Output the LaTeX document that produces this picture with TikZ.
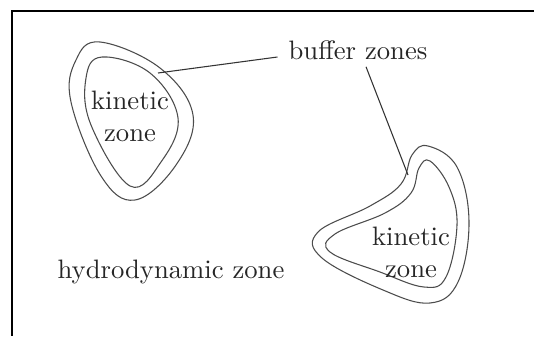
\documentclass[tikz,border=0pt]{standalone}
\usepackage{tikz}

\begin{document}
\begin{tikzpicture}[x=0.375pt, y=-0.375pt]
        \tikzstyle{zonetext}=[align=center, inner sep=1pt, text=black!85]
        \tikzstyle{contour}=[draw=black!70, line width=0.4pt]
        \tikzstyle{leader}=[draw=black!80, line width=0.4pt]
        \useasboundingbox (0,0) rectangle (534,336);
        % frame (only top and left edges show)
        \draw[line width=0.7pt] (534,11) -- (12,11) -- (12,336);
        % left kinetic zone with its buffer
        \draw[contour] plot[smooth cycle, tension=0.65] coordinates
            {(100,42) (160,68) (193,115) (176,165) (135,200) (101,176) (71,102) (76,60)};
        \draw[contour] plot[smooth cycle, tension=0.65] coordinates
            {(102,57) (150,73) (178,118) (161,162) (130,186) (91,125) (86,78)};
        \node[zonetext] (kinL) at (130,116) {kinetic\\zone};
        % right kinetic zone with its buffer
        \draw[contour] plot[smooth cycle, tension=0.65] coordinates
            {(428,146) (457,167) (469,222) (458,282) (430,303) (383,290) (322,258)
             (318,232) (370,206) (401,184) (412,155)};
        \draw[contour] plot[smooth cycle, tension=0.65] coordinates
            {(430,161) (449,187) (457,225) (446,277) (424,287) (380,272) (330,252)
             (335,234) (385,213) (411,193) (419,168)};
        \node[zonetext] (kinR) at (411,252) {kinetic\\zone};
        % labels
        \node[zonetext] (hydro) at (171,272) {hydrodynamic zone};
        \node[zonetext] (buffer) at (358,50) {buffer zones};
        \coordinate (bufL) at (158,73);
        \coordinate (bufR) at (408,175);
        \draw[leader] (buffer.west) ++(-8,7) -- (bufL);
        \draw[leader] (buffer.south) ++(8,4) -- (bufR);
    \end{tikzpicture}
\end{document}
